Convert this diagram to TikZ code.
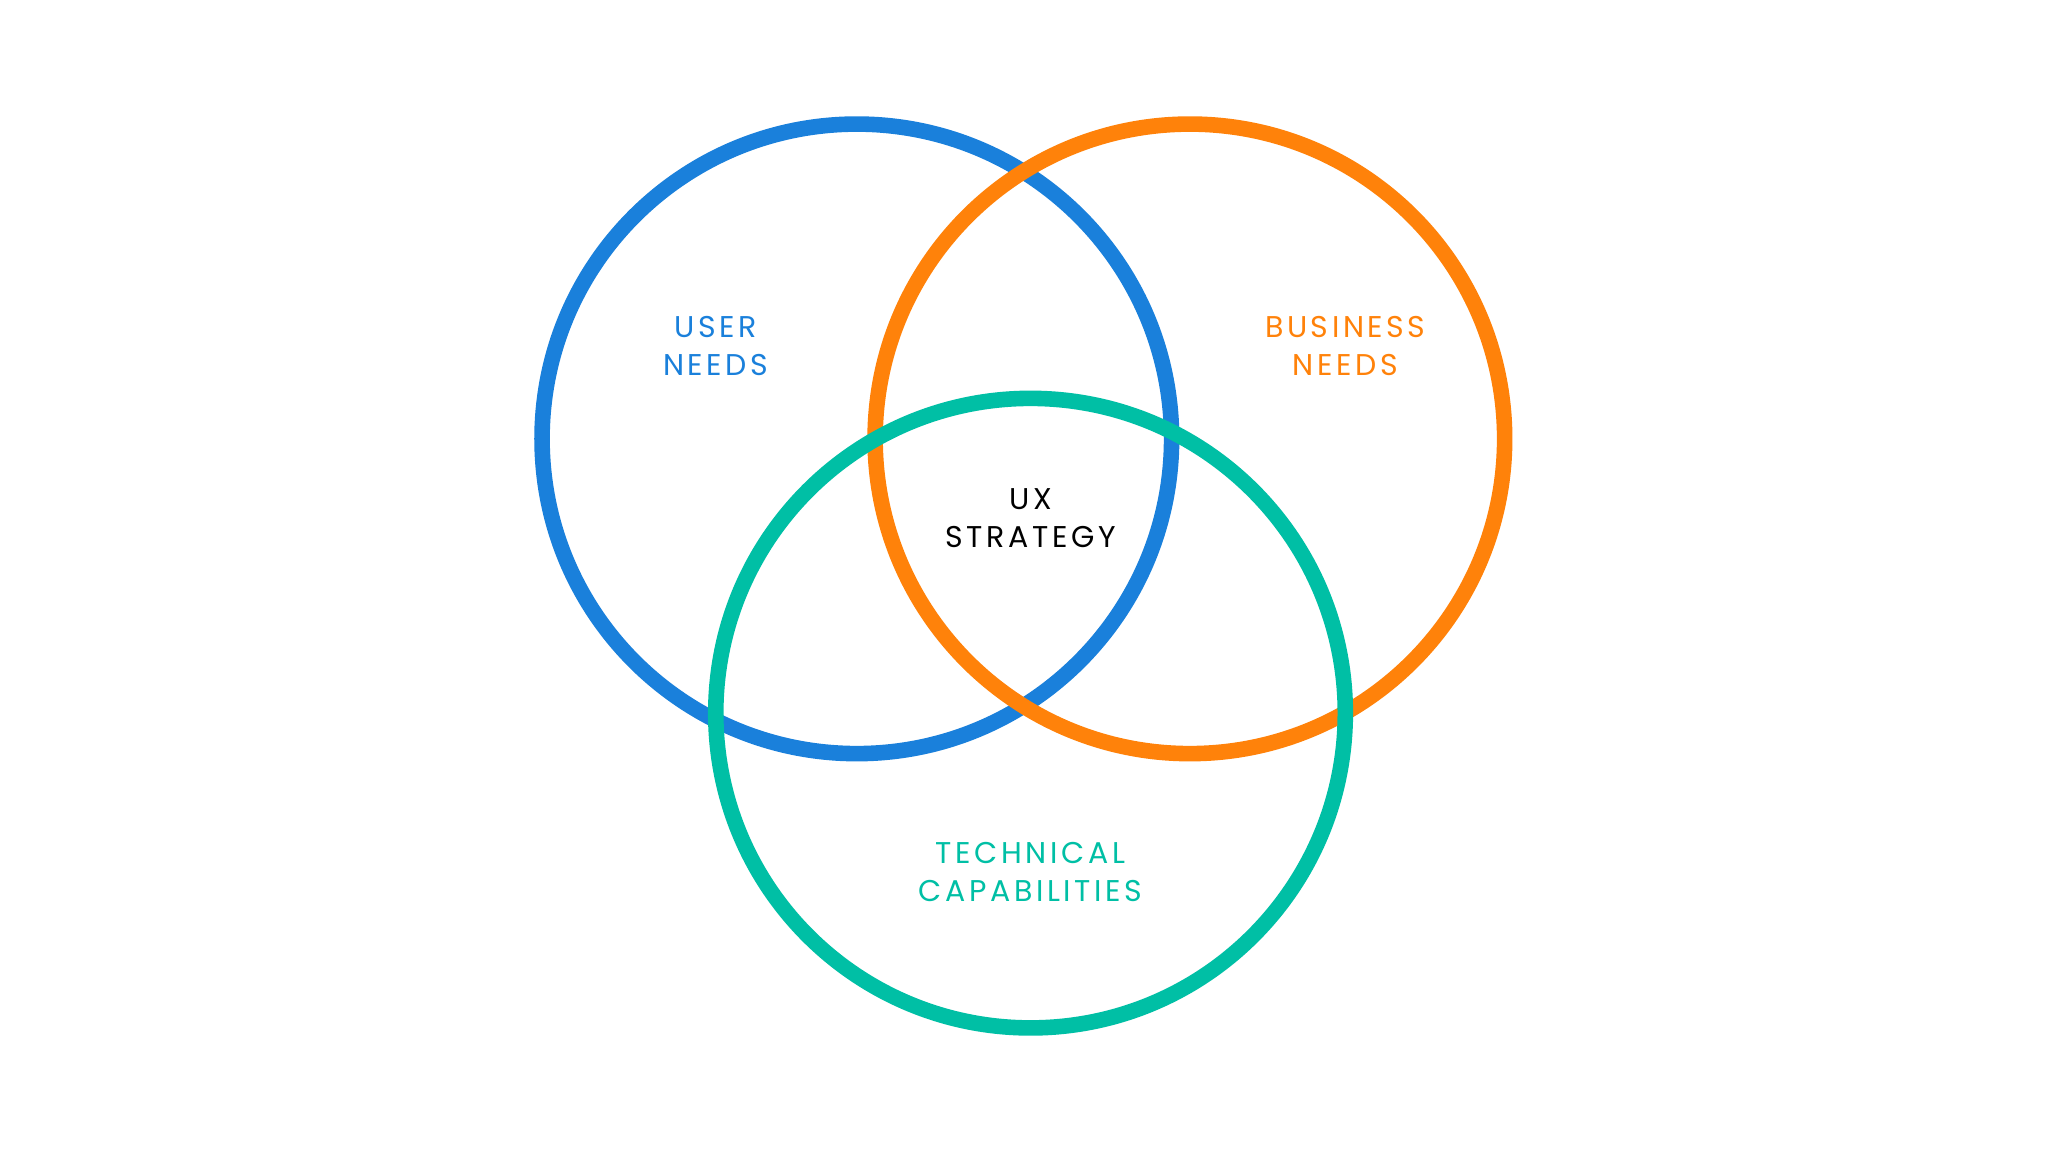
\documentclass[tikz,border=0pt]{standalone}
\usepackage{fontspec}
\setmainfont[LetterSpace=12]{Poppins}
\definecolor{cblue}{HTML}{1A80DB}
\definecolor{corange}{HTML}{FF820A}
\definecolor{cgreen}{HTML}{00BFA5}
\begin{document}
\begin{tikzpicture}[x=0.653pt,y=-0.653pt,
  ring/.style={line width=7.8pt},
  lbl/.style={font=\fontsize{15}{19}\selectfont,align=center}]
\useasboundingbox (0,0) rectangle (1568,882);
\fill[white] (0,0) rectangle (1568,882);
\draw[ring,cblue] (656,336) circle[radius=241];
\draw[ring,corange] (911,336) circle[radius=241];
\draw[ring,cgreen] (789,546) circle[radius=241];
\node[lbl,text=cblue] (u) at (548,265) {USER\\NEEDS};
\node[lbl,text=corange] (b) at (1030,265) {BUSINESS\\NEEDS};
\node[lbl,text=black] (s) at (789,397) {UX\\STRATEGY};
\node[lbl,text=cgreen] (t) at (789,668) {TECHNICAL\\CAPABILITIES};
\end{tikzpicture}
\end{document}
